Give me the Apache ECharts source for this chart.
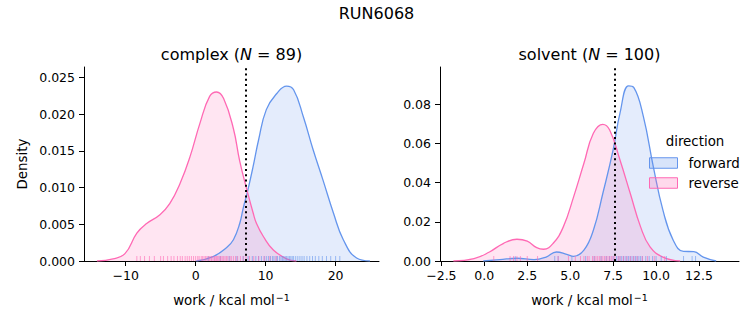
<!DOCTYPE html>
<html><head><meta charset="utf-8">
<script src="https://cdn.jsdelivr.net/npm/echarts@6/dist/echarts.min.js"></script>
<style>html,body{margin:0;padding:0;background:#fff}#c{width:753px;height:325px}</style>
</head><body><div id="c"></div>
<script>
// ---- data ----
const complexForwardX = [0.1, 2.5, 4.4, 5.4, 6.3, 6.8, 7.4, 8.2, 9.0, 10.1, 11.6, 13.0, 14.0, 15.4, 16.8, 18.2, 19.7, 21.1, 23.0, 24.9];
const complexForwardY = [0, 0.0006, 0.0018, 0.0029, 0.0051, 0.0072, 0.0094, 0.0128, 0.0165, 0.0206, 0.0228, 0.0238, 0.0233, 0.0196, 0.0151, 0.011, 0.0065, 0.0029, 0.0004, 0];
const complexReverseX = [-14.1, -11.8, -10.1, -8.4, -7.0, -5.1, -3.7, -2.2, -0.8, 0.6, 2.0, 3.0, 4.0, 5.4, 6.3, 7.4, 8.2, 8.7, 9.7, 11.1, 13.0, 14.4];
const complexReverseY = [0, 0.0003, 0.001, 0.0038, 0.0051, 0.0063, 0.0078, 0.0106, 0.0142, 0.0187, 0.0224, 0.0230, 0.0221, 0.0180, 0.0136, 0.0094, 0.0066, 0.0051, 0.0033, 0.0015, 0.0003, 0];
const solventForwardX = [-0.06, 0.9, 1.9, 2.9, 3.6, 4.2, 4.8, 5.2, 5.8, 6.35, 6.9, 7.5, 7.9, 8.4, 8.7, 9.26, 9.84, 10.4, 11.0, 11.6, 12.2, 12.75, 13.5];
const solventForwardY = [0, 0.0007, 0.0014, 0.0007, 0.002, 0.0046, 0.0034, 0.0024, 0.0055, 0.0157, 0.0344, 0.0566, 0.0754, 0.0893, 0.0885, 0.0737, 0.0481, 0.0259, 0.0106, 0.0049, 0.0048, 0.002, 0];
const solventReverseX = [-1.8, -0.6, 0.3, 1.1, 1.9, 2.5, 3.05, 3.45, 4.0, 4.6, 5.2, 5.8, 6.35, 6.9, 7.3, 7.9, 8.5, 9.1, 9.65, 10.4, 11.4];
const solventReverseY = [0, 0.0012, 0.0046, 0.0089, 0.0111, 0.0101, 0.0068, 0.006, 0.0089, 0.0174, 0.0327, 0.0498, 0.0651, 0.0697, 0.0668, 0.0515, 0.0344, 0.0174, 0.0072, 0.002, 0];

const complexForwardRug = [1.8, 3.5, 4.8, 5.9, 6.8, 7.5, 8.1, 8.6, 9.0, 9.4, 9.8, 10.1, 10.4, 10.7, 11.0, 11.2, 11.5, 11.7, 12.0, 12.2, 12.4, 12.6, 12.8, 13.0, 13.2, 13.4, 13.6, 13.8, 14.0, 14.3, 14.6, 14.9, 15.2, 15.5, 15.9, 16.3, 16.7, 17.1, 17.6, 18.1, 18.7, 19.3, 20.0, 20.6];
const complexReverseRug = [-8.4, -7.9, -7.3, -6.6, -5.9, -5.0, -4.6, -4.0, -3.5, -3.1, -2.6, -2.2, -1.9, -1.5, -1.2, -0.9, -0.6, -0.3, 0.0, 0.3, 0.5, 0.8, 1.0, 1.2, 1.4, 1.6, 1.8, 2.0, 2.2, 2.3, 2.5, 2.7, 2.8, 3.0, 3.1, 3.3, 3.5, 3.6, 3.8, 4.0, 4.2, 4.4, 4.6, 4.9, 5.1, 5.4, 5.7, 6.0, 6.4, 6.8, 7.2, 7.7, 8.3, 9.0, 9.8, 10.6, 11.5];
const solventForwardRug = [1.8, 4.1, 4.3, 5.1, 5.9, 6.4, 6.8, 7.1, 7.3, 7.5, 7.7, 7.8, 7.9, 8.0, 8.1, 8.2, 8.3, 8.4, 8.5, 8.6, 8.7, 8.8, 8.9, 9.0, 9.1, 9.2, 9.4, 9.6, 9.8, 10.0, 10.3, 10.6, 11.6, 12.1, 12.3];
const solventReverseRug = [0.55, 1.5, 1.7, 1.9, 2.1, 2.5, 3.1, 4.3, 4.9, 5.3, 5.6, 5.8, 6.0, 6.1, 6.3, 6.4, 6.5, 6.6, 6.7, 6.8, 6.9, 7.0, 7.1, 7.2, 7.3, 7.4, 7.5, 7.6, 7.8, 7.9, 8.1, 8.3, 8.5, 8.7, 8.9, 9.2, 9.5, 9.9, 10.5];

const complexMarker = 7.15;
const solventMarker = 7.58;

const complexXTicks = [-10, 0, 10, 20];
const complexYTicks = [0, 0.005, 0.010, 0.015, 0.020, 0.025];
const solventXTicks = [-2.5, 0, 2.5, 5, 7.5, 10, 12.5];
const solventYTicks = [0, 0.02, 0.04, 0.06, 0.08];

const suptitle = 'RUN6068';
const directions = ['forward', 'reverse'];

// ---- chart ----
const FONT = 'DejaVu Sans';
const BLUE = '#6495ED', PINK = '#FF69B4';
const BLUE_F = 'rgba(100,149,237,0.25)', PINK_F = 'rgba(255,105,180,0.25)';
const minus = s => String(s).replace('-', '\u2212');

function zip(xs, ys) { return xs.map((x, i) => [x, ys[i]]); }

function xAxisDef(gi, min, max, ticks, fmt) {
  return {
    gridIndex: gi, type: 'value', min: min, max: max,
    axisLine: { onZero: false, lineStyle: { color: '#000', width: 1 } },
    axisTick: { length: 5, lineStyle: { color: '#000', width: 1 }, customValues: ticks },
    axisLabel: { customValues: ticks, formatter: fmt, margin: 8, fontSize: 12.5, color: '#000', fontFamily: FONT },
    splitLine: { show: false },
    name: '{a|work / kcal mol}{s|\u22121}', nameLocation: 'middle', nameGap: 31,
    nameTextStyle: { rich: {
      a: { fontSize: 13.4, fontFamily: FONT, color: '#000', lineHeight: 16 },
      s: { fontSize: 9.5, fontFamily: FONT, color: '#000', verticalAlign: 'top', lineHeight: 16, padding: [0, 0, 0, 1] }
    } }
  };
}
function yAxisDef(gi, max, ticks, fmt, name) {
  return {
    gridIndex: gi, type: 'value', min: 0, max: max,
    axisLine: { show: true, onZero: false, lineStyle: { color: '#000', width: 1 } },
    axisTick: { show: true, length: 5, lineStyle: { color: '#000', width: 1 }, customValues: ticks },
    axisLabel: { customValues: ticks, formatter: fmt, margin: 9, fontSize: 12.5, color: '#000', fontFamily: FONT },
    splitLine: { show: false },
    name: name, nameLocation: 'middle', nameGap: 55,
    nameTextStyle: { fontSize: 13.4, fontFamily: FONT, color: '#000' }
  };
}
function kde(name, gi, xs, ys, line, fill) {
  return {
    name: name, type: 'line', xAxisIndex: gi, yAxisIndex: gi,
    data: zip(xs, ys), smooth: 0.45, symbol: 'none', showSymbol: false,
    lineStyle: { color: line, width: 1.3 }, itemStyle: { color: line },
    areaStyle: { color: fill, origin: 'start' }, silent: true
  };
}
function rug(name, gi, xs, color) {
  return {
    name: name, type: 'scatter', xAxisIndex: gi, yAxisIndex: gi,
    data: xs.map(v => [v, 0]), symbol: 'rect', symbolSize: [1, 5], symbolOffset: [0, -2.5],
    itemStyle: { color: color, opacity: 0.6 }, silent: true, z: 3
  };
}
function marker(gi, v) {
  return {
    type: 'line', xAxisIndex: gi, yAxisIndex: gi, data: [], silent: true, z: 5,
    markLine: { silent: true, symbol: 'none', label: { show: false }, animation: false,
      lineStyle: { color: '#000', type: [2, 3.3], width: 2 }, data: [{ xAxis: v }] }
  };
}

const chart = echarts.init(document.getElementById('c'), null, { renderer: 'svg' });
chart.setOption({
  animation: false,
  backgroundColor: '#fff',
  grid: [
    { left: 84, top: 67, width: 295, height: 194 },
    { left: 440, top: 67, width: 299, height: 194 }
  ],
  xAxis: [
    xAxisDef(0, -15.95, 26.2, complexXTicks, v => minus(v)),
    xAxisDef(1, -2.58, 14.83, solventXTicks, v => minus(v.toFixed(1)))
  ],
  yAxis: [
    yAxisDef(0, 0.0264, complexYTicks, v => v.toFixed(3), 'Density'),
    yAxisDef(1, 0.0989, solventYTicks, v => v.toFixed(2), '')
  ],
  legend: {
    orient: 'vertical', left: 649, top: 156.5, padding: 0, itemWidth: 28, itemHeight: 10.5, itemGap: 7,
    selectedMode: false,
    textStyle: { fontSize: 13.4, color: '#000', fontFamily: FONT, padding: [0, 0, 0, 6] },
    data: [
      { name: directions[0], icon: 'rect', itemStyle: { color: BLUE_F, borderColor: BLUE, borderWidth: 1 } },
      { name: directions[1], icon: 'rect', itemStyle: { color: PINK_F, borderColor: PINK, borderWidth: 1 } }
    ]
  },
  graphic: [
    { type: 'text', x: 376.5, y: 13, style: { text: suptitle, font: '16px "DejaVu Sans"', fill: '#000', align: 'center', verticalAlign: 'middle' } },
    { type: 'text', x: 231.5, y: 54, style: { text: '{a|complex (}{i|N}{a| = 89)}', align: 'center', verticalAlign: 'middle',
      rich: { a: { fontSize: 16, fontFamily: FONT, color: '#000' }, i: { fontSize: 16, fontFamily: FONT, fontStyle: 'italic', color: '#000' } } } },
    { type: 'text', x: 589.5, y: 54, style: { text: '{a|solvent (}{i|N}{a| = 100)}', align: 'center', verticalAlign: 'middle',
      rich: { a: { fontSize: 16, fontFamily: FONT, color: '#000' }, i: { fontSize: 16, fontFamily: FONT, fontStyle: 'italic', color: '#000' } } } },
    { type: 'text', x: 695, y: 141, style: { text: 'direction', font: '13.4px "DejaVu Sans"', fill: '#000', align: 'center', verticalAlign: 'middle' } }
  ],
  series: [
    kde(directions[0], 0, complexForwardX, complexForwardY, BLUE, BLUE_F),
    kde(directions[1], 0, complexReverseX, complexReverseY, PINK, PINK_F),
    rug(directions[0], 0, complexForwardRug, BLUE),
    rug(directions[1], 0, complexReverseRug, PINK),
    marker(0, complexMarker),
    kde(directions[0], 1, solventForwardX, solventForwardY, BLUE, BLUE_F),
    kde(directions[1], 1, solventReverseX, solventReverseY, PINK, PINK_F),
    rug(directions[0], 1, solventForwardRug, BLUE),
    rug(directions[1], 1, solventReverseRug, PINK),
    marker(1, solventMarker)
  ]
});
</script></body></html>
